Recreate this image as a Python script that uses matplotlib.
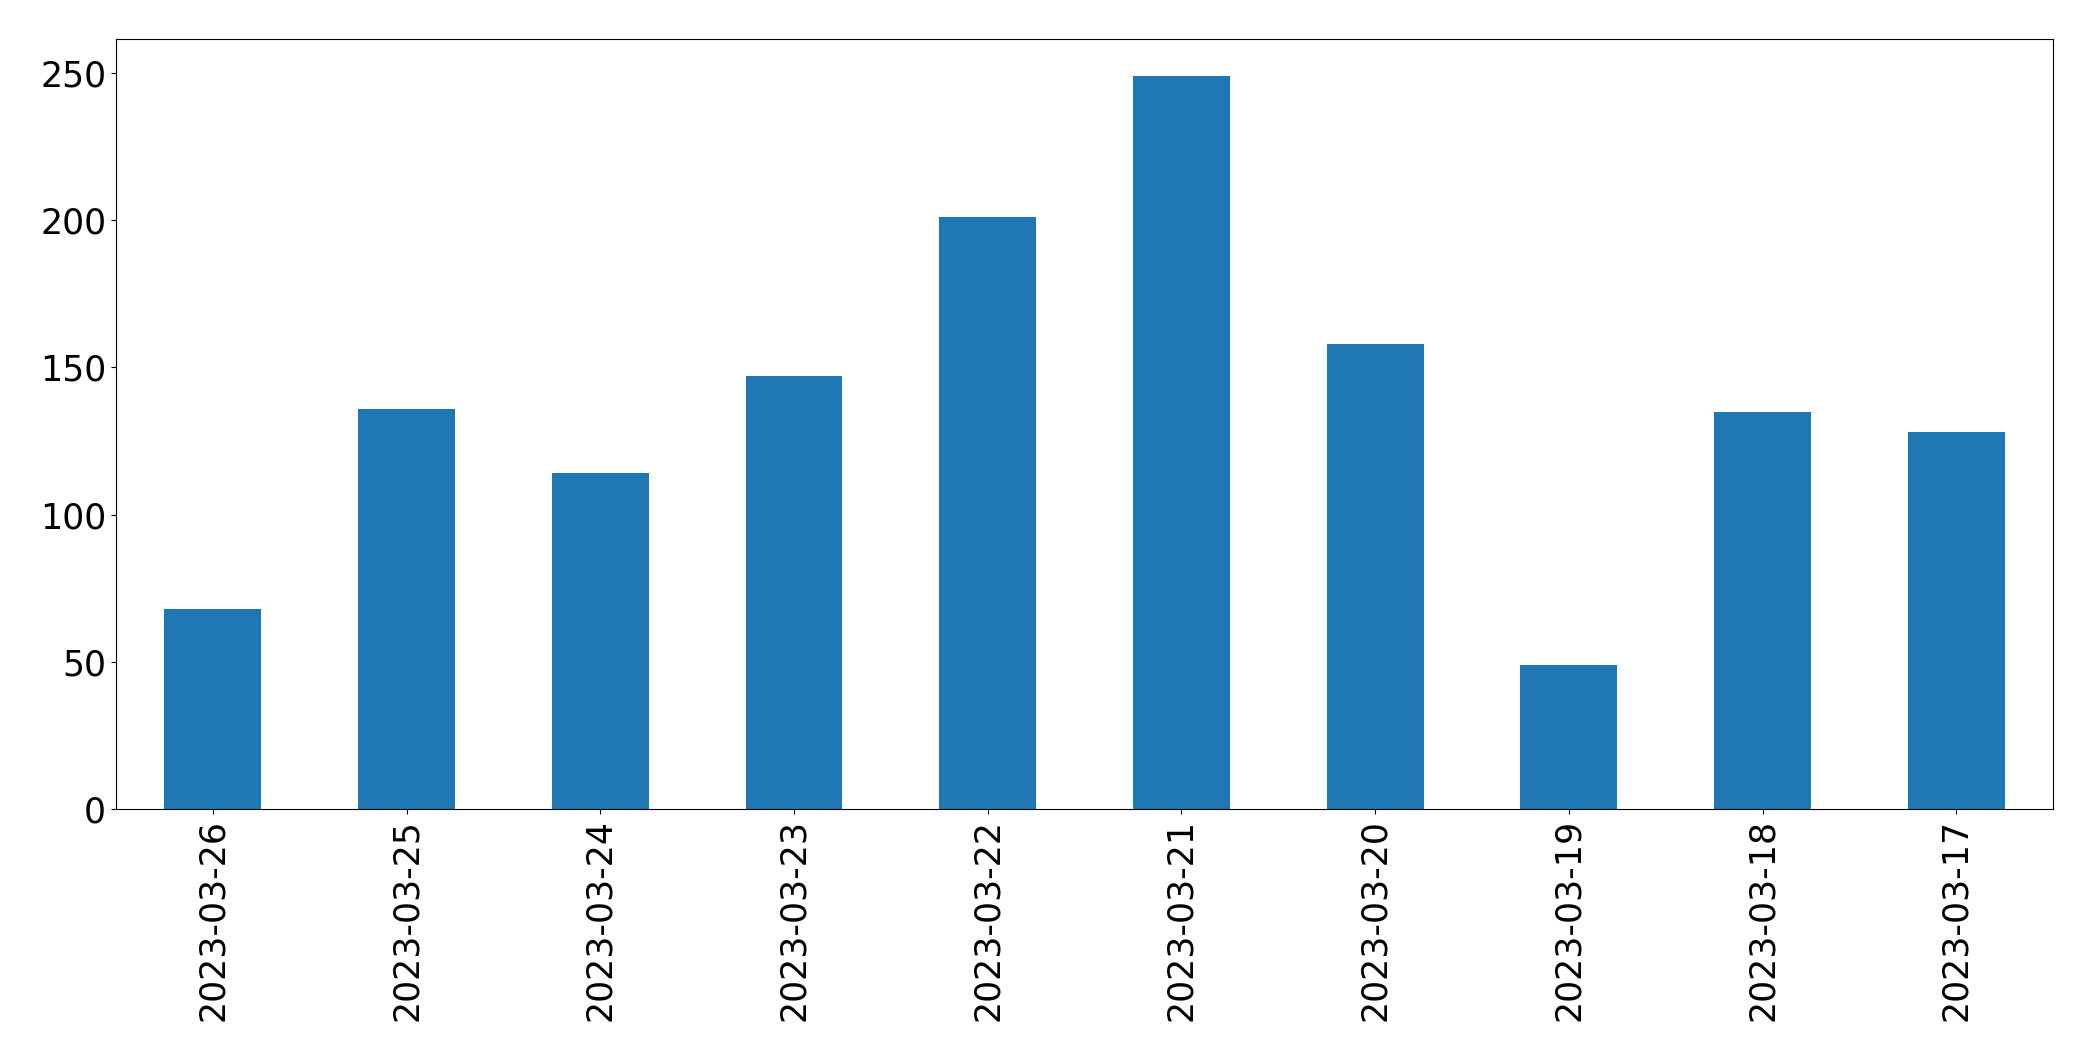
'''Daily counts as a bar chart (pandas plot)'''

import pandas as pd
import matplotlib
matplotlib.use('Agg')
import matplotlib.pyplot as plt

dates = ['2023-03-26', '2023-03-25', '2023-03-24', '2023-03-23', '2023-03-22',
         '2023-03-21', '2023-03-20', '2023-03-19', '2023-03-18', '2023-03-17']
counts = [68, 136, 114, 147, 201, 249, 158, 49, 135, 128]

series = pd.Series(counts, index=dates)

# plot
fig, ax = plt.subplots(figsize=(20.93, 10.61), dpi=100)
series.plot(kind='bar', ax=ax, color='#1f77b4')
ax.tick_params(axis='both', labelsize=25)
fig.subplots_adjust(left=0.0554, right=0.981, top=0.963, bottom=0.2375)
fig.savefig('out.png', dpi=100)
